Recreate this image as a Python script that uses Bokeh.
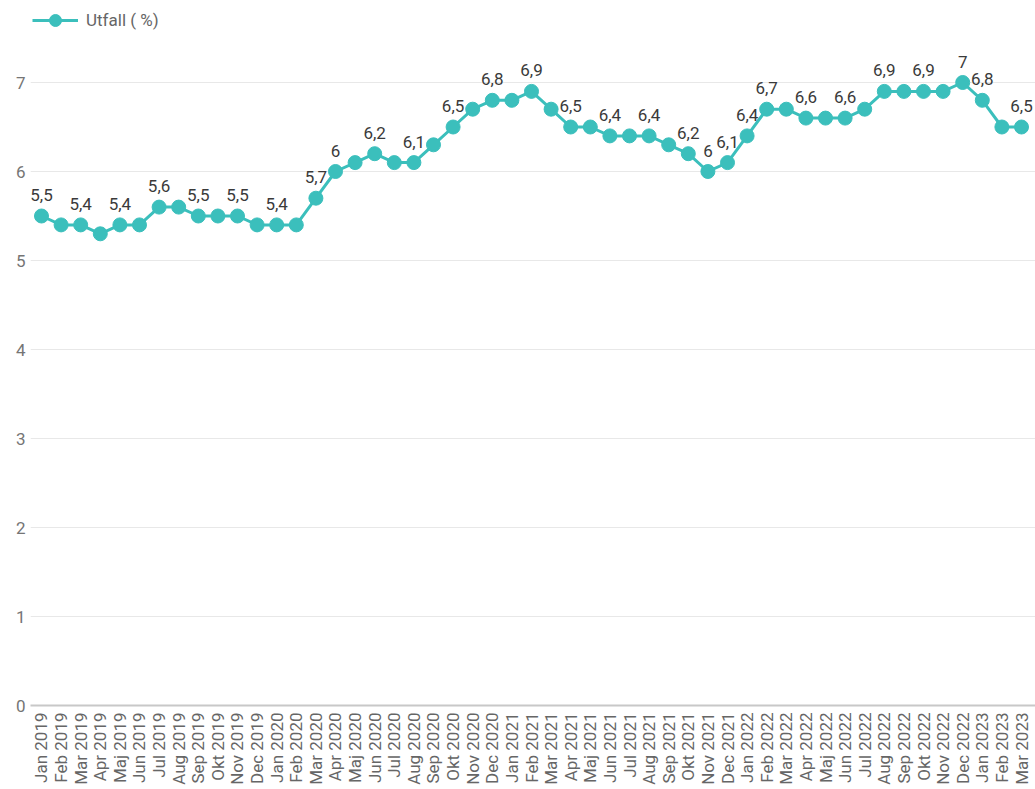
import math
from bokeh.plotting import figure
from bokeh.models import (ColumnDataSource, LabelSet, Legend, LegendItem,
                          FixedTicker, Range1d)
from bokeh.core.properties import value
from bokeh.embed import file_html
from bokeh.resources import INLINE

months = [
    "Jan 2019", "Feb 2019", "Mar 2019", "Apr 2019", "Maj 2019", "Jun 2019",
    "Jul 2019", "Aug 2019", "Sep 2019", "Okt 2019", "Nov 2019", "Dec 2019",
    "Jan 2020", "Feb 2020", "Mar 2020", "Apr 2020", "Maj 2020", "Jun 2020",
    "Jul 2020", "Aug 2020", "Sep 2020", "Okt 2020", "Nov 2020", "Dec 2020",
    "Jan 2021", "Feb 2021", "Mar 2021", "Apr 2021", "Maj 2021", "Jun 2021",
    "Jul 2021", "Aug 2021", "Sep 2021", "Okt 2021", "Nov 2021", "Dec 2021",
    "Jan 2022", "Feb 2022", "Mar 2022", "Apr 2022", "Maj 2022", "Jun 2022",
    "Jul 2022", "Aug 2022", "Sep 2022", "Okt 2022", "Nov 2022", "Dec 2022",
    "Jan 2023", "Feb 2023", "Mar 2023",
]

utfall = [
    5.5, 5.4, 5.4, 5.3, 5.4, 5.4, 5.6, 5.6, 5.5, 5.5, 5.5, 5.4,
    5.4, 5.4, 5.7, 6.0, 6.1, 6.2, 6.1, 6.1, 6.3, 6.5, 6.7, 6.8,
    6.8, 6.9, 6.7, 6.5, 6.5, 6.4, 6.4, 6.4, 6.3, 6.2, 6.0, 6.1,
    6.4, 6.7, 6.7, 6.6, 6.6, 6.6, 6.7, 6.9, 6.9, 6.9, 6.9, 7.0,
    6.8, 6.5, 6.5,
]

# which points carry a visible data label (1 = shown)
show_label = [
    1, 0, 1, 0, 1, 0, 1, 0, 1, 0, 1, 0,
    1, 0, 1, 1, 0, 1, 0, 1, 0, 1, 0, 1,
    0, 1, 0, 1, 0, 1, 0, 1, 0, 1, 1, 1,
    1, 1, 0, 1, 0, 1, 0, 1, 0, 1, 0, 1,
    1, 0, 1,
]

y_ticks = [0, 1, 2, 3, 4, 5, 6, 7]
series_name = "Utfall ( %)"

TEAL = "#3bbfbc"
FONT = "Roboto"

x_idx = list(range(len(months)))
src = ColumnDataSource(dict(x=x_idx, y=utfall))

lab_x = [i for i in x_idx if show_label[i]]
lab_y = [utfall[i] for i in lab_x]
lab_t = [("%g" % utfall[i]).replace(".", ",") for i in lab_x]
lab_src = ColumnDataSource(dict(x=lab_x, y=lab_y, t=lab_t))

W, H = 1035, 789
LEFT, RIGHT, TOP, BOTTOM = 30, 0, 0, 84
frame_h = H - TOP - BOTTOM          # 705
px_per_unit = (frame_h - 82) / 7.0  # 89
y_end = frame_h / px_per_unit

p = figure(width=W, height=H,
           x_range=Range1d(-0.561, 50.714), y_range=Range1d(0, y_end),
           output_backend="svg", toolbar_location=None,
           min_border_left=LEFT, min_border_right=RIGHT,
           min_border_top=TOP, min_border_bottom=BOTTOM)
p.outline_line_color = None
p.background_fill_color = "white"
p.border_fill_color = "white"

p.xgrid.visible = False
p.ygrid.grid_line_color = "#e8e8e8"
p.ygrid.grid_line_width = 1

p.yaxis.ticker = FixedTicker(ticks=y_ticks)
p.yaxis.axis_line_color = None
p.yaxis.major_tick_line_color = None
p.yaxis.major_tick_out = 0
p.yaxis.major_tick_in = 0
p.yaxis.minor_tick_line_color = None
p.yaxis.major_label_text_font = FONT
p.yaxis.major_label_text_font_size = "17px"
p.yaxis.major_label_text_color = "#757575"
p.yaxis.major_label_standoff = 5

p.xaxis.ticker = FixedTicker(ticks=x_idx)
p.xaxis.major_label_overrides = {i: m for i, m in zip(x_idx, months)}
p.xaxis.major_label_orientation = math.pi / 2
p.xaxis.axis_line_color = "#c8c8c8"
p.xaxis.axis_line_width = 2
p.xaxis.major_tick_line_color = None
p.xaxis.major_tick_out = 0
p.xaxis.major_tick_in = 0
p.xaxis.minor_tick_line_color = None
p.xaxis.major_label_text_font = FONT
p.xaxis.major_label_text_font_size = "17px"
p.xaxis.major_label_text_color = "#666666"
p.xaxis.major_label_standoff = 7

line_r = p.line(x="x", y="y", source=src, line_color=TEAL, line_width=3)
dot_r = p.scatter(x="x", y="y", source=src, size=14,
                  fill_color=TEAL, line_color=TEAL)

labels = LabelSet(x="x", y="y", text="t", source=lab_src,
                  text_align="center", text_baseline="middle",
                  y_offset=21, text_font=value(FONT),
                  text_font_size="17px", text_color="#3a3a3a")
p.add_layout(labels)

legend = Legend(items=[LegendItem(label=series_name, renderers=[line_r, dot_r])],
                location=(2, frame_h - 5 - 30),
                glyph_width=46, glyph_height=30, label_height=30,
                label_standoff=8, padding=0, margin=0, spacing=0,
                border_line_color=None, background_fill_alpha=0,
                label_text_font=FONT, label_text_font_size="17px",
                label_text_color="#666666")
p.add_layout(legend)

open("out.html", "w").write(file_html(p, INLINE))
